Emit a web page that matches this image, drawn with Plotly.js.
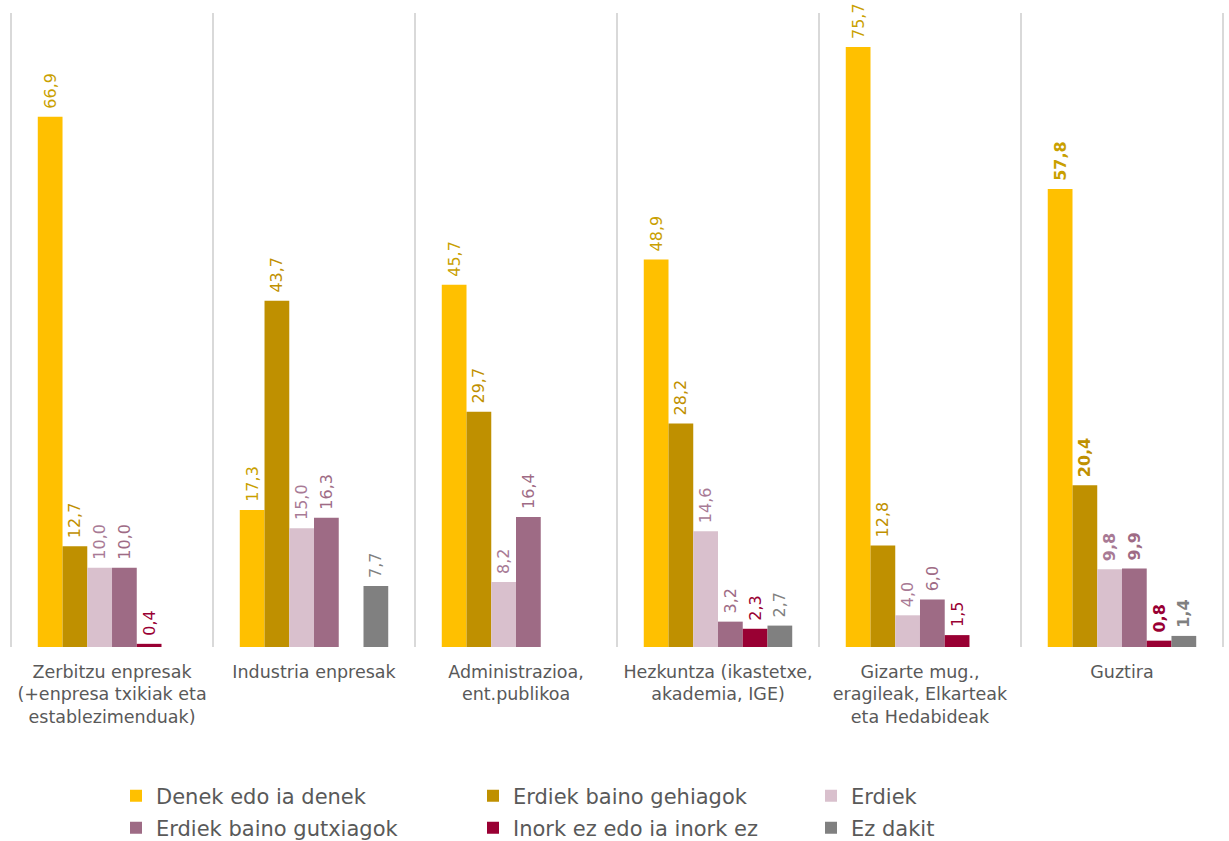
<!DOCTYPE html>
<html>
<head>
<meta charset="utf-8">
<script src="https://cdn.plot.ly/plotly-3.0.1.min.js"></script>
<style>html,body{margin:0;padding:0;background:#fff;}#chart{width:1229px;height:841px;}</style>
</head>
<body>
<div id="chart"></div>
<script>
const categories = [
  "Zerbitzu enpresak<br>(+enpresa txikiak eta<br>establezimenduak)",
  "Industria enpresak",
  "Administrazioa,<br>ent.publikoa",
  "Hezkuntza (ikastetxe,<br>akademia, IGE)",
  "Gizarte mug.,<br>eragileak, Elkarteak<br>eta Hedabideak",
  "Guztira"
];
const seriesNames = ["Denek edo ia denek", "Erdiek baino gehiagok", "Erdiek",
                     "Erdiek baino gutxiagok", "Inork ez edo ia inork ez", "Ez dakit"];
const denek      = [66.9, 17.3, 45.7, 48.9, 75.7, 57.8];
const gehiagok   = [12.7, 43.7, 29.7, 28.2, 12.8, 20.4];
const erdiek     = [10.0, 15.0, 8.2, 14.6, 4.0, 9.8];
const gutxiagok  = [10.0, 16.3, 16.4, 3.2, 6.0, 9.9];
const inork      = [0.4, null, null, 2.3, 1.5, 0.8];
const ezDakit    = [null, 7.7, null, 2.7, null, 1.4];

const barColors   = ["#FFC000", "#BF9000", "#D9C0CD", "#9E6B85", "#990033", "#808080"];
const labelColors = ["#C9A000", "#BF9000", "#A87A95", "#9E6B85", "#990033", "#808080"];
const allValues = [denek, gehiagok, erdiek, gutxiagok, inork, ezDakit];

const FONT = "Century Gothic, DejaVu Sans, sans-serif";

function fmt(v, i) {
  if (v === null) return "";
  const s = v.toFixed(1).replace(".", ",");
  const t = (i === categories.length - 1) ? "<b>" + s + "</b>" : s;
  return "\u00A0" + t;
}

const legendKeys = ["legend", "legend2", "legend3", "legend4", "legend5", "legend6"];

const traces = allValues.map((vals, k) => ({
  type: "bar",
  name: seriesNames[k],
  legend: legendKeys[k],
  x: categories,
  y: vals,
  marker: {color: barColors[k]},
  text: vals.map(fmt),
  textposition: "outside",
  textangle: -90,
  constraintext: "none",
  cliponaxis: false,
  textfont: {family: FONT, size: 16, color: labelColors[k]},
  hoverinfo: "skip"
}));

const W = 1229, H = 841;
const PL = 9, PW = 1216, PB = 647, PT = 13;
const colTextX = [156, 513, 851];
const rowY = [796, 828];
function legendAt(col, row) {
  return {
    orientation: "h",
    x: (colTextX[col] - 40 - PL) / PW,
    xanchor: "left",
    yref: "container",
    y: (H - rowY[row]) / H,
    yanchor: "middle",
    itemwidth: 30,
    bgcolor: "rgba(0,0,0,0)",
    font: {family: FONT, size: 21, color: "#595959"}
  };
}

const layout = {
  width: W,
  height: H,
  margin: {l: PL, r: W - PL - PW, t: PT, b: H - PB},
  paper_bgcolor: "#ffffff",
  plot_bgcolor: "#ffffff",
  barmode: "group",
  bargap: 0.265,
  bargroupgap: 0,
  showlegend: true,
  font: {family: FONT, color: "#595959"},
  xaxis: {
    type: "category",
    range: [-0.51, 5.51],
    tickson: "boundaries",
    showgrid: true,
    gridcolor: "#D9D9D9",
    gridwidth: 2,
    ticks: "",
    tickangle: 0,
    ticklabelstandoff: 12,
    showline: false,
    zeroline: false,
    tickfont: {family: FONT, size: 17.5, color: "#595959"},
    automargin: false
  },
  yaxis: {
    range: [0, 80],
    visible: false,
    showgrid: false,
    zeroline: false,
    fixedrange: true
  },
  legend: legendAt(0, 0),
  legend2: legendAt(1, 0),
  legend3: legendAt(2, 0),
  legend4: legendAt(0, 1),
  legend5: legendAt(1, 1),
  legend6: legendAt(2, 1)
};

Plotly.newPlot("chart", traces, layout, {displayModeBar: false, staticPlot: true});
</script>
</body>
</html>
